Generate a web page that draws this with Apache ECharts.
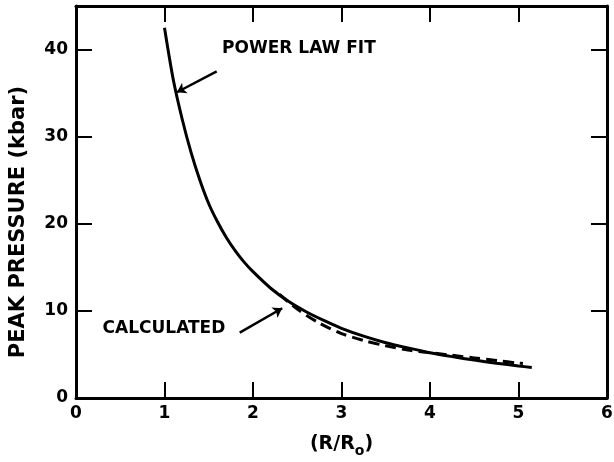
<!DOCTYPE html>
<html>
<head>
<meta charset="utf-8">
<script src="https://cdn.jsdelivr.net/npm/echarts@6/dist/echarts.min.js"></script>
<style>html,body{margin:0;padding:0;background:#fff}#c{width:614px;height:462px}</style>
</head>
<body>
<div id="c"></div>
<script>
// Power law fit (solid)
const fitX = [1.0, 1.1, 1.2, 1.3, 1.4, 1.5, 1.6, 1.7, 1.8, 1.9, 2.0, 2.2, 2.4, 2.6, 2.8, 3.0, 3.25, 3.5, 3.75, 4.0, 4.25, 4.5, 4.75, 5.0, 5.15];
const fitY = [42.5, 36.5, 32.0, 28.2, 25.0, 22.3, 20.2, 18.4, 16.9, 15.6, 14.5, 12.6, 11.1, 9.9, 8.9, 8.0, 7.1, 6.35, 5.75, 5.2, 4.75, 4.35, 4.0, 3.68, 3.5];
// Calculated (dashed)
const calcX = [2.3, 2.5, 2.75, 3.0, 3.25, 3.5, 3.75, 4.0, 4.25, 4.5, 4.75, 5.0, 5.05];
const calcY = [11.9, 10.2, 8.6, 7.4, 6.6, 6.0, 5.5, 5.2, 4.9, 4.6, 4.3, 4.0, 3.95];
const xTicks = [0, 1, 2, 3, 4, 5, 6];
const yTicks = [0, 10, 20, 30, 40];
const xTitle = '(R/R{sub|o})';
const yTitle = 'PEAK PRESSURE (kbar)';
const fitLabel = 'POWER LAW FIT';
const calcLabel = 'CALCULATED';

const FONT = '"DejaVu Sans", "Liberation Sans", Arial, sans-serif';
const chart = echarts.init(document.getElementById('c'), null, {renderer: 'canvas'});
const pair = (xs, ys) => xs.map((x, i) => [x, ys[i]]);

const axisLine = {show: true, onZero: false, lineStyle: {color: '#000', width: 3}};
const tickIn = {show: true, inside: true, length: 16, lineStyle: {color: '#000', width: 2}};

chart.setOption({
  animation: false,
  grid: {left: 76, right: 7, top: 6, bottom: 64, containLabel: false, outerBoundsMode: 'none'},
  xAxis: [
    {type: 'value', min: xTicks[0], max: xTicks[xTicks.length - 1], interval: 1, position: 'bottom',
     axisLine, axisTick: tickIn, splitLine: {show: false},
     axisLabel: {color: '#000', fontFamily: FONT, fontWeight: 'bold', fontSize: 17, margin: 7},
     name: xTitle, nameLocation: 'middle', nameGap: 32,
     nameTextStyle: {color: '#000', fontFamily: FONT, fontWeight: 'bold', fontSize: 19,
       rich: {sub: {color: '#000', fontFamily: FONT, fontWeight: 'bold', fontSize: 14, verticalAlign: 'bottom', padding: [14, 0, 0, 0]}}}},
    {type: 'value', min: xTicks[0], max: xTicks[xTicks.length - 1], interval: 1, position: 'top',
     axisLine, axisTick: tickIn, splitLine: {show: false}, axisLabel: {show: false}}
  ],
  yAxis: [
    {type: 'value', min: 0, max: 45, interval: 10, position: 'left',
     axisLine, axisTick: tickIn, splitLine: {show: false},
     axisLabel: {color: '#000', fontFamily: FONT, fontWeight: 'bold', fontSize: 17, margin: 8,
       formatter: v => yTicks.includes(v) ? String(v) : ''}},
    {type: 'value', min: 0, max: 45, interval: 10, position: 'right',
     axisLine, axisTick: tickIn, splitLine: {show: false}, axisLabel: {show: false}}
  ],
  graphic: [
    {type: 'text', x: 19, y: 222, rotation: Math.PI / 2, silent: true,
     style: {text: yTitle, fill: '#000', font: 'bold 21px ' + FONT, align: 'center', verticalAlign: 'middle'}}
  ],
  series: [
    {type: 'line', name: 'fit', data: pair(fitX, fitY), smooth: 0.3, symbol: 'none',
     lineStyle: {color: '#000', width: 3},
     markLine: {silent: true, symbol: ['none', 'arrow'], symbolSize: 9, label: {show: false},
       lineStyle: {color: '#000', width: 2.5, type: 'solid'},
       data: [
         [{coord: [1.59, 37.5]}, {coord: [1.14, 35.1]}],
         [{coord: [1.85, 7.5]}, {coord: [2.33, 10.3]}]
       ]}},
    {type: 'line', name: 'calc', data: pair(calcX, calcY), smooth: 0.3, symbol: 'none',
     lineStyle: {color: '#000', width: 3, type: [11, 6]}},
    {type: 'scatter', symbolSize: 0, silent: true, itemStyle: {opacity: 1, color: '#000'},
     data: [
       {value: [1.65, 40.1], name: fitLabel},
       {value: [0.30, 7.95], name: calcLabel}
     ],
     label: {show: true, position: [0, 0], align: 'left', verticalAlign: 'middle', opacity: 1,
       formatter: p => p.name, color: '#000', fontFamily: FONT, fontWeight: 'bold', fontSize: 17}}
  ]
});
</script>
</body>
</html>
